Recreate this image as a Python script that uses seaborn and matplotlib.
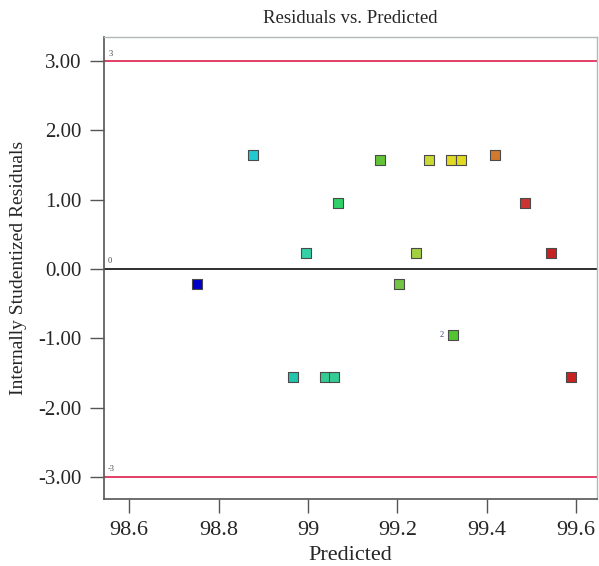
import matplotlib
matplotlib.use("Agg")
import matplotlib.pyplot as plt
import seaborn as sns
import pandas as pd

# Data
predicted = [98.877, 98.752, 98.996, 99.067, 99.161, 98.966, 99.038, 99.058,
             99.204, 99.242, 99.271, 99.320, 99.343, 99.419, 99.486, 99.544,
             99.325, 99.589]
residuals = [1.65, -0.22, 0.23, 0.95, 1.57, -1.56, -1.56, -1.56,
             -0.22, 0.23, 1.57, 1.57, 1.57, 1.64, 0.95, 0.23,
             -0.95, -1.56]
point_colors = ['#22C8D2', '#0000C8', '#34D0A8', '#30D068', '#62C434', '#22C4AE',
                '#32CC94', '#32CC94', '#72C444', '#A2D040', '#CAD832', '#E2DA22',
                '#E2DA22', '#D07A30', '#CC3434', '#C42222', '#52C432', '#C82222']
y_ticks = [-3, -2, -1, 0, 1, 2, 3]
x_ticks = [98.6, 98.8, 99.0, 99.2, 99.4, 99.6]
x_tick_labels = ['98.6', '98.8', '99', '99.2', '99.4', '99.6']
limit_lines = [3, -3]

df = pd.DataFrame({'Predicted': predicted, 'Residual': residuals,
                   'pt': [str(i) for i in range(len(predicted))]})
palette = {str(i): c for i, c in enumerate(point_colors)}

sns.set_style('ticks')
plt.rcParams['font.family'] = ['Liberation Serif', 'DejaVu Serif']

fig = plt.figure(figsize=(5.99, 5.66), dpi=100)
ax = fig.add_axes([0.173, 0.118, 0.824, 0.817])

ax.axhline(0, color='#303030', lw=1.4, zorder=1)
for v in limit_lines:
    ax.axhline(v, color='#E0305A', lw=1.3, zorder=1)

sns.scatterplot(data=df, x='Predicted', y='Residual', hue='pt', palette=palette,
                marker='s', s=52, edgecolor='#4a4a4a', linewidth=0.8,
                legend=False, ax=ax, zorder=3)

ax.set_xlim(98.543, 99.647)
ax.set_ylim(-3.32, 3.35)
ax.set_yticks(y_ticks)
ax.set_yticklabels([f'{v:.2f}' for v in y_ticks], fontsize=15)
ax.set_xticks(x_ticks)
ax.set_xticklabels(x_tick_labels, fontsize=16)
ax.tick_params(axis='both', direction='out', length=10, width=1, color='#555555', pad=6)

ax.set_xlabel('Predicted', fontsize=16, labelpad=4)
ax.set_ylabel('Internally Studentized Residuals', fontsize=14, labelpad=8)
ax.set_title('Residuals vs. Predicted', fontsize=13.5, pad=10)

for side in ['left', 'bottom']:
    ax.spines[side].set_color('#555555')
    ax.spines[side].set_linewidth(1.2)
for side in ['top', 'right']:
    ax.spines[side].set_visible(True)
    ax.spines[side].set_color('#B0B8B8')
    ax.spines[side].set_linewidth(1.0)

# small line labels
ax.text(98.553, 3.08, '3', fontsize=6, color='#444444')
ax.text(98.553, 0.08, '0', fontsize=6, color='#444444')
ax.text(98.553, -2.92, '-3', fontsize=6, color='#444444')
ax.text(99.325 - 0.03, -0.95, '2', fontsize=6, color='#334488', va='center')

fig.savefig('out.png', dpi=100)
